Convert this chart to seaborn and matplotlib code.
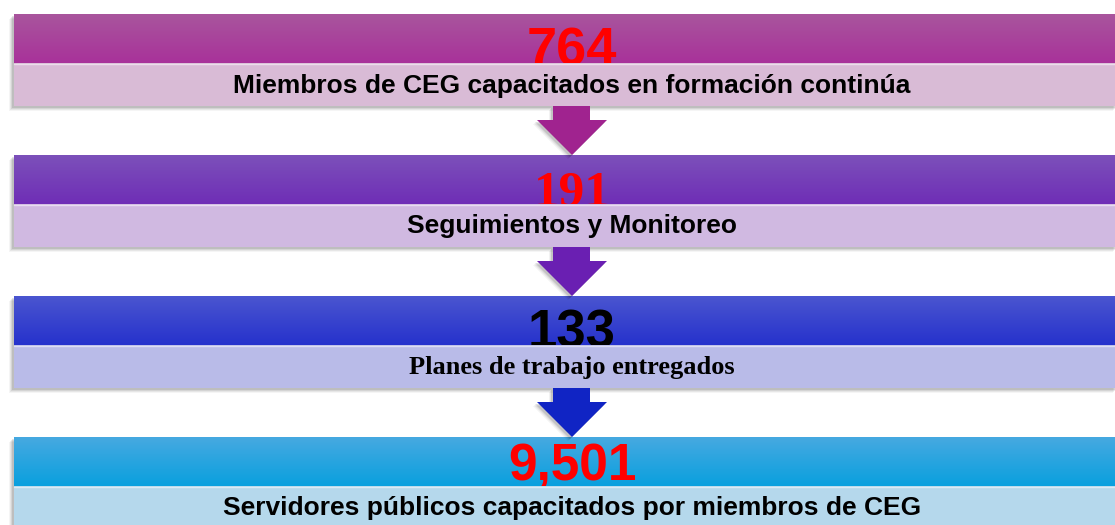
import numpy as np
import matplotlib
matplotlib.use("Agg")
import matplotlib.pyplot as plt
import seaborn as sns
from matplotlib import font_manager
from matplotlib.patches import Rectangle, Polygon
from matplotlib.colors import LinearSegmentedColormap

# contenido del diagrama
numbers = ["764", "191", "133", "9,501"]
labels = ["Miembros de CEG capacitados en formación continúa",
          "Seguimientos y Monitoreo",
          "Planes de trabajo entregados",
          "Servidores públicos capacitados por miembros de CEG"]
number_colors = ["#FF0000", "#FF0000", "#000000", "#FF0000"]
number_fonts = ["sans", "serif", "sans", "sans"]
number_sizes = [39, 37, 38, 37]
label_fonts = ["sans", "sans", "serif", "sans"]
label_sizes = [19, 19, 19, 19]

band_top = ["#A9559D", "#7C50BA", "#4A55D0", "#46A9E1"]
band_bottom = ["#A8329A", "#6F2EB6", "#2632CC", "#0AA0DE"]
band_light = ["#D9BBD6", "#D0B9E1", "#B9BBE8", "#B5D8EC"]
arrow_colors = ["#A0238F", "#6A1FB2", "#1024C4"]


def find_font(fname, fallback):
    for p in font_manager.findSystemFonts():
        if p.endswith(fname):
            return p
    return font_manager.findfont(font_manager.FontProperties(family=fallback, weight="bold"))


font_paths = {"sans": find_font("LiberationSans-Bold.ttf", "DejaVu Sans"),
              "serif": find_font("LiberationSerif-Bold.ttf", "DejaVu Serif")}


def fp(kind, size):
    return font_manager.FontProperties(fname=font_paths[kind], size=size)


sns.set_theme(style="white")

fig = plt.figure(figsize=(11.15, 5.25), dpi=100)
ax = fig.add_axes([0, 0, 1, 1])

x0, x1 = 14, 1118
box_top = [14, 155, 296, 437]
top_h, box_h = 49, 92
cx = 572
num_base = [2, 2, 2, -6]

for i in range(len(numbers)):
    y0 = box_top[i]
    ys = y0 + top_h
    y1 = y0 + box_h
    # sombra
    for k, a in enumerate([0.10, 0.08, 0.06, 0.04]):
        ax.add_patch(Rectangle((x0 - 2 - k, y0 + 2 + k), x1 - x0, box_h,
                               color="black", alpha=a, lw=0, zorder=1))
    grad = np.linspace(0, 1, 60)[:, None]
    cmap = LinearSegmentedColormap.from_list("b%d" % i, [band_top[i], band_bottom[i]])
    ax.imshow(grad, cmap=cmap, extent=(x0, x1, ys, y0), aspect="auto", zorder=2)
    ax.text(cx, ys + num_base[i], numbers[i], ha="center", va="baseline",
            fontproperties=fp(number_fonts[i], number_sizes[i]),
            color=number_colors[i], zorder=3)
    ax.add_patch(Rectangle((x0, ys), x1 - x0, box_h - top_h, color=band_light[i],
                           lw=0, zorder=4))
    ax.plot([x0, x1], [ys + 0.5, ys + 0.5], color="white", alpha=0.5, lw=1, zorder=4.5)
    ax.text(cx, ys + (box_h - top_h) / 2 + 1, labels[i], ha="center", va="center",
            fontproperties=fp(label_fonts[i], label_sizes[i]),
            color="black", zorder=5)

# flechas entre cajas
for i in range(len(arrow_colors)):
    ytop = box_top[i] + box_h
    ytip = box_top[i + 1]
    yhead = ytip - 35
    pts = [(553, ytop), (590, ytop), (590, yhead), (607, yhead),
           (cx, ytip), (537, yhead), (553, yhead)]
    for k, a in enumerate([0.12, 0.08, 0.05]):
        ax.add_patch(Polygon([(px - 2 - k, py + 2 + k) for px, py in pts],
                             closed=True, color="black", alpha=a, lw=0, zorder=5.5))
    ax.add_patch(Polygon(pts, closed=True, color=arrow_colors[i], lw=0, zorder=6))

ax.set_xlim(0, 1115)
ax.set_ylim(525, 0)
ax.axis("off")

fig.savefig("out.png", dpi=100)
